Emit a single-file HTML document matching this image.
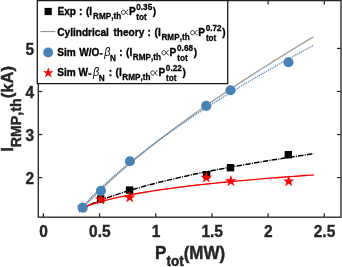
<!DOCTYPE html>
<html><head><meta charset="utf-8"><title>plot</title>
<style>
html,body{margin:0;padding:0;background:#fff;}
body{width:342px;height:267px;overflow:hidden;position:relative;}
svg{position:absolute;left:0;top:0;display:block;will-change:transform;}
text{font-family:"Liberation Sans",sans-serif;font-weight:bold;fill:#262626;font-kerning:none;}
.m{font-size:10.1px;fill:#000;stroke:#000;stroke-width:0.3px;}
.s{font-size:8.2px;fill:#000;stroke:#000;stroke-width:0.25px;}
.b{font-family:"Liberation Sans",sans-serif;font-style:italic;font-weight:normal;font-size:10.9px;fill:#000;}
.tk{stroke:#262626;stroke-width:0.35px;}
.lb{stroke:#262626;stroke-width:0.4px;}
.ls{font-size:13.5px;}
</style></head><body>
<svg width="342" height="267" viewBox="0 0 342 267">
<rect x="0" y="0" width="342" height="267" fill="#fff"/>
<rect x="38.30" y="0.60" width="302.70" height="216.60" fill="none" stroke="#262626" stroke-width="1.35"/>
<line x1="43.40" y1="217.20" x2="43.40" y2="213.20" stroke="#262626" stroke-width="1.25"/>
<line x1="43.40" y1="0.60" x2="43.40" y2="4.60" stroke="#262626" stroke-width="1.25"/>
<line x1="99.58" y1="217.20" x2="99.58" y2="213.20" stroke="#262626" stroke-width="1.25"/>
<line x1="99.58" y1="0.60" x2="99.58" y2="4.60" stroke="#262626" stroke-width="1.25"/>
<line x1="155.76" y1="217.20" x2="155.76" y2="213.20" stroke="#262626" stroke-width="1.25"/>
<line x1="155.76" y1="0.60" x2="155.76" y2="4.60" stroke="#262626" stroke-width="1.25"/>
<line x1="211.94" y1="217.20" x2="211.94" y2="213.20" stroke="#262626" stroke-width="1.25"/>
<line x1="211.94" y1="0.60" x2="211.94" y2="4.60" stroke="#262626" stroke-width="1.25"/>
<line x1="268.12" y1="217.20" x2="268.12" y2="213.20" stroke="#262626" stroke-width="1.25"/>
<line x1="268.12" y1="0.60" x2="268.12" y2="4.60" stroke="#262626" stroke-width="1.25"/>
<line x1="324.30" y1="217.20" x2="324.30" y2="213.20" stroke="#262626" stroke-width="1.25"/>
<line x1="324.30" y1="0.60" x2="324.30" y2="4.60" stroke="#262626" stroke-width="1.25"/>
<line x1="38.30" y1="177.60" x2="42.30" y2="177.60" stroke="#262626" stroke-width="1.25"/>
<line x1="341.00" y1="177.60" x2="337.00" y2="177.60" stroke="#262626" stroke-width="1.25"/>
<line x1="38.30" y1="134.55" x2="42.30" y2="134.55" stroke="#262626" stroke-width="1.25"/>
<line x1="341.00" y1="134.55" x2="337.00" y2="134.55" stroke="#262626" stroke-width="1.25"/>
<line x1="38.30" y1="91.50" x2="42.30" y2="91.50" stroke="#262626" stroke-width="1.25"/>
<line x1="341.00" y1="91.50" x2="337.00" y2="91.50" stroke="#262626" stroke-width="1.25"/>
<line x1="38.30" y1="48.45" x2="42.30" y2="48.45" stroke="#262626" stroke-width="1.25"/>
<line x1="341.00" y1="48.45" x2="337.00" y2="48.45" stroke="#262626" stroke-width="1.25"/>
<path d="M82.50 208.35 L85.39 206.93 L88.28 205.57 L91.17 204.27 L94.06 203.02 L96.95 201.81 L99.84 200.64 L102.73 199.52 L105.62 198.42 L108.51 197.36 L111.40 196.33 L114.29 195.33 L117.18 194.36 L120.07 193.40 L122.96 192.47 L125.85 191.57 L128.74 190.68 L131.63 189.81 L134.52 188.96 L137.41 188.13 L140.30 187.31 L143.19 186.51 L146.08 185.72 L148.97 184.95 L151.86 184.19 L154.75 183.44 L157.64 182.71 L160.53 181.99 L163.42 181.28 L166.31 180.58 L169.20 179.89 L172.09 179.21 L174.98 178.54 L177.87 177.88 L180.76 177.23 L183.65 176.59 L186.54 175.96 L189.43 175.33 L192.32 174.71 L195.21 174.10 L198.10 173.50 L200.99 172.90 L203.88 172.32 L206.77 171.73 L209.66 171.16 L212.55 170.59 L215.44 170.03 L218.33 169.47 L221.22 168.92 L224.11 168.38 L227.00 167.84 L229.89 167.30 L232.78 166.77 L235.67 166.25 L238.56 165.73 L241.45 165.22 L244.34 164.71 L247.23 164.20 L250.12 163.70 L253.01 163.21 L255.90 162.72 L258.79 162.23 L261.68 161.75 L264.57 161.27 L267.46 160.80 L270.35 160.33 L273.24 159.86 L276.13 159.40 L279.02 158.94 L281.91 158.48 L284.80 158.03 L287.69 157.58 L290.58 157.14 L293.47 156.69 L296.36 156.26 L299.25 155.82 L302.14 155.39 L305.03 154.96 L307.92 154.53 L310.81 154.11 L313.70 153.69" fill="none" stroke="#000" stroke-width="1.5" stroke-dasharray="5.5 1.15 1.1 1.15"/>
<rect x="78.80" y="204.00" width="7.40" height="7.40" fill="#000"/>
<rect x="97.00" y="195.30" width="7.40" height="7.40" fill="#000"/>
<rect x="125.90" y="186.40" width="7.40" height="7.40" fill="#000"/>
<rect x="202.90" y="171.00" width="7.40" height="7.40" fill="#000"/>
<rect x="226.80" y="164.00" width="7.40" height="7.40" fill="#000"/>
<rect x="284.60" y="151.00" width="7.40" height="7.40" fill="#000"/>
<path d="M82.50 207.78 L85.39 206.65 L88.28 205.60 L91.17 204.61 L94.06 203.67 L96.95 202.78 L99.84 201.93 L102.73 201.13 L105.62 200.35 L108.51 199.61 L111.40 198.90 L114.29 198.22 L117.18 197.56 L120.07 196.93 L122.96 196.32 L125.85 195.72 L128.74 195.15 L131.63 194.59 L134.52 194.05 L137.41 193.53 L140.30 193.02 L143.19 192.52 L146.08 192.04 L148.97 191.57 L151.86 191.11 L154.75 190.66 L157.64 190.23 L160.53 189.80 L163.42 189.38 L166.31 188.97 L169.20 188.57 L172.09 188.18 L174.98 187.80 L177.87 187.42 L180.76 187.05 L183.65 186.69 L186.54 186.34 L189.43 185.99 L192.32 185.65 L195.21 185.31 L198.10 184.98 L200.99 184.65 L203.88 184.34 L206.77 184.02 L209.66 183.71 L212.55 183.41 L215.44 183.11 L218.33 182.81 L221.22 182.52 L224.11 182.24 L227.00 181.96 L229.89 181.68 L232.78 181.40 L235.67 181.13 L238.56 180.87 L241.45 180.61 L244.34 180.35 L247.23 180.09 L250.12 179.84 L253.01 179.59 L255.90 179.34 L258.79 179.10 L261.68 178.86 L264.57 178.62 L267.46 178.39 L270.35 178.15 L273.24 177.92 L276.13 177.70 L279.02 177.47 L281.91 177.25 L284.80 177.03 L287.69 176.82 L290.58 176.60 L293.47 176.39 L296.36 176.18 L299.25 175.97 L302.14 175.77 L305.03 175.56 L307.92 175.36 L310.81 175.16 L313.70 174.97" fill="none" stroke="#ff0000" stroke-width="1.4"/>
<polygon points="82.50,201.55 83.88,205.80 88.35,205.80 84.73,208.43 86.11,212.68 82.50,210.05 78.89,212.68 80.27,208.43 76.65,205.80 81.12,205.80" fill="#ff0000"/>
<polygon points="100.60,193.35 101.98,197.60 106.45,197.60 102.83,200.23 104.21,204.48 100.60,201.85 96.99,204.48 98.37,200.23 94.75,197.60 99.22,197.60" fill="#ff0000"/>
<polygon points="129.70,191.35 131.08,195.60 135.55,195.60 131.93,198.23 133.31,202.48 129.70,199.85 126.09,202.48 127.47,198.23 123.85,195.60 128.32,195.60" fill="#ff0000"/>
<polygon points="206.30,171.45 207.68,175.70 212.15,175.70 208.53,178.33 209.91,182.58 206.30,179.95 202.69,182.58 204.07,178.33 200.45,175.70 204.92,175.70" fill="#ff0000"/>
<polygon points="230.90,175.05 232.28,179.30 236.75,179.30 233.13,181.93 234.51,186.18 230.90,183.55 227.29,186.18 228.67,181.93 225.05,179.30 229.52,179.30" fill="#ff0000"/>
<polygon points="288.70,175.15 290.08,179.40 294.55,179.40 290.93,182.03 292.31,186.28 288.70,183.65 285.09,186.28 286.47,182.03 282.85,179.40 287.32,179.40" fill="#ff0000"/>
<path d="M82.50 208.13 L85.39 205.05 L88.28 202.04 L91.17 199.08 L94.06 196.18 L96.95 193.33 L99.84 190.53 L102.73 187.77 L105.62 185.05 L108.51 182.37 L111.40 179.73 L114.29 177.12 L117.18 174.55 L120.07 172.00 L122.96 169.48 L125.85 167.00 L128.74 164.53 L131.63 162.10 L134.52 159.68 L137.41 157.30 L140.30 154.93 L143.19 152.58 L146.08 150.26 L148.97 147.95 L151.86 145.67 L154.75 143.40 L157.64 141.15 L160.53 138.92 L163.42 136.71 L166.31 134.51 L169.20 132.33 L172.09 130.16 L174.98 128.01 L177.87 125.87 L180.76 123.74 L183.65 121.63 L186.54 119.54 L189.43 117.45 L192.32 115.38 L195.21 113.32 L198.10 111.27 L200.99 109.24 L203.88 107.21 L206.77 105.20 L209.66 103.19 L212.55 101.20 L215.44 99.22 L218.33 97.25 L221.22 95.29 L224.11 93.34 L227.00 91.39 L229.89 89.46 L232.78 87.53 L235.67 85.62 L238.56 83.71 L241.45 81.82 L244.34 79.93 L247.23 78.04 L250.12 76.17 L253.01 74.31 L255.90 72.45 L258.79 70.60 L261.68 68.76 L264.57 66.92 L267.46 65.10 L270.35 63.28 L273.24 61.46 L276.13 59.66 L279.02 57.86 L281.91 56.06 L284.80 54.28 L287.69 52.50 L290.58 50.73 L293.47 48.96 L296.36 47.20 L299.25 45.44 L302.14 43.70 L305.03 41.95 L307.92 40.22 L310.81 38.49 L313.70 36.76" fill="none" stroke="#a3a3a3" stroke-width="1.45"/>
<path d="M82.50 206.71 L85.39 203.58 L88.28 200.53 L91.17 197.55 L94.06 194.64 L96.95 191.80 L99.84 189.00 L102.73 186.27 L105.62 183.58 L108.51 180.94 L111.40 178.34 L114.29 175.78 L117.18 173.26 L120.07 170.78 L122.96 168.33 L125.85 165.92 L128.74 163.54 L131.63 161.18 L134.52 158.86 L137.41 156.56 L140.30 154.29 L143.19 152.05 L146.08 149.83 L148.97 147.63 L151.86 145.45 L154.75 143.30 L157.64 141.16 L160.53 139.05 L163.42 136.95 L166.31 134.88 L169.20 132.82 L172.09 130.78 L174.98 128.76 L177.87 126.75 L180.76 124.76 L183.65 122.79 L186.54 120.83 L189.43 118.88 L192.32 116.95 L195.21 115.03 L198.10 113.13 L200.99 111.24 L203.88 109.36 L206.77 107.50 L209.66 105.64 L212.55 103.80 L215.44 101.97 L218.33 100.16 L221.22 98.35 L224.11 96.55 L227.00 94.77 L229.89 92.99 L232.78 91.23 L235.67 89.48 L238.56 87.73 L241.45 86.00 L244.34 84.27 L247.23 82.55 L250.12 80.85 L253.01 79.15 L255.90 77.46 L258.79 75.78 L261.68 74.10 L264.57 72.44 L267.46 70.78 L270.35 69.13 L273.24 67.49 L276.13 65.86 L279.02 64.23 L281.91 62.61 L284.80 61.00 L287.69 59.40 L290.58 57.80 L293.47 56.21 L296.36 54.63 L299.25 53.05 L302.14 51.48 L305.03 49.92 L307.92 48.36 L310.81 46.81 L313.70 45.27" fill="none" stroke="#4682b4" stroke-width="1.4" stroke-dasharray="1.05 1.05"/>
<circle cx="82.70" cy="207.80" r="5.05" fill="#4682b4"/>
<circle cx="101.00" cy="190.80" r="5.05" fill="#4682b4"/>
<circle cx="129.90" cy="161.20" r="5.05" fill="#4682b4"/>
<circle cx="206.20" cy="105.90" r="5.05" fill="#4682b4"/>
<circle cx="230.50" cy="90.20" r="5.05" fill="#4682b4"/>
<circle cx="288.50" cy="62.20" r="5.05" fill="#4682b4"/>
<text class="tk" style="font-size:15.5px" text-anchor="middle" transform="translate(43.60 237.3) scale(1 1.050)">0</text>
<text class="tk" style="font-size:15.5px" text-anchor="middle" transform="translate(99.78 237.3) scale(1 1.050)">0.5</text>
<text class="tk" style="font-size:15.5px" text-anchor="middle" transform="translate(155.96 237.3) scale(1 1.050)">1</text>
<text class="tk" style="font-size:15.5px" text-anchor="middle" transform="translate(212.14 237.3) scale(1 1.050)">1.5</text>
<text class="tk" style="font-size:15.5px" text-anchor="middle" transform="translate(268.32 237.3) scale(1 1.050)">2</text>
<text class="tk" style="font-size:15.5px" text-anchor="middle" transform="translate(324.50 237.3) scale(1 1.050)">2.5</text>
<text class="tk" style="font-size:15.5px" text-anchor="end" transform="translate(34.2 54.65) scale(1 1.050)">5</text>
<text class="tk" style="font-size:15.5px" text-anchor="end" transform="translate(34.2 97.70) scale(1 1.050)">4</text>
<text class="tk" style="font-size:15.5px" text-anchor="end" transform="translate(34.2 140.75) scale(1 1.050)">3</text>
<text class="tk" style="font-size:15.5px" text-anchor="end" transform="translate(34.2 183.80) scale(1 1.050)">2</text>
<g transform="translate(155.1,258.8) scale(1 1.05)"><text class="lb" style="font-size:17px" x="0" y="0">P<tspan style="font-size:13.5px" dy="7.2">tot</tspan><tspan dy="-7.2">(MW)</tspan></text></g>
<g transform="translate(12.7,151.8) rotate(-90) scale(1 1.04)"><text class="lb" style="font-size:16.6px" x="0" y="0">I<tspan style="font-size:14.2px" dy="8.3">RMP,th</tspan><tspan dy="-8.3">(kA)</tspan></text></g>
<rect x="37.3" y="0.6" width="190.4" height="83.0" fill="#fff" stroke="#1a1a1a" stroke-width="1.3"/>
<rect x="44.60" y="7.90" width="7.20" height="7.20" fill="#000"/>
<line x1="40.4" y1="31.6" x2="55.4" y2="31.6" stroke="#8c8c8c" stroke-width="1"/>
<circle cx="48.15" cy="52.45" r="4.95" fill="#4682b4"/>
<polygon points="48.30,67.25 49.57,71.15 53.67,71.15 50.35,73.57 51.62,77.47 48.30,75.06 44.98,77.47 46.25,73.57 42.93,71.15 47.03,71.15" fill="#ff0000"/>
<text class="m" transform="translate(57.41 15.30) scale(1 1.090)">Exp</text>
<text class="m" transform="translate(79.04 15.30) scale(1 1.090)">:</text>
<text class="m" transform="translate(86.00 15.30) scale(1 1.090)">(</text>
<text class="m" transform="translate(89.31 15.30) scale(1 1.090)">I</text>
<text class="s" transform="translate(93.04 19.20) scale(1 1.090)">RMP,th</text>
<path d="M 7.5,0 C 6.2,0 5.4,1.2 4.7,2.4 C 4.0,3.6 3.3,4.8 2.2,4.8 C 0.9,4.8 0,3.8 0,2.4 C 0,1.0 0.9,0 2.2,0 C 3.3,0 4.0,1.2 4.7,2.4 C 5.4,3.6 6.2,4.8 7.5,4.8" transform="translate(121.50,10.10) scale(0.9 0.900)" fill="none" stroke="#000" stroke-width="0.9"/>
<text class="m" transform="translate(129.11 15.30) scale(1 1.090)">P</text>
<text class="s" transform="translate(136.27 10.40) scale(1 1.090)">0.35</text>
<text class="s" transform="translate(136.29 20.10) scale(1 1.090)">tot</text>
<text class="m" transform="translate(152.87 15.30) scale(1 1.090)">)</text>
<text class="m" transform="translate(57.30 35.70) scale(1 1.090)">Cylindrical</text>
<text class="m" transform="translate(113.47 35.70) scale(1 1.090)">theory</text>
<text class="m" transform="translate(147.44 35.70) scale(1 1.090)">:</text>
<text class="m" transform="translate(154.59 35.70) scale(1 1.090)">(</text>
<text class="m" transform="translate(158.11 35.70) scale(1 1.090)">I</text>
<text class="s" transform="translate(161.44 39.60) scale(1 1.090)">RMP,th</text>
<path d="M 7.5,0 C 6.2,0 5.4,1.2 4.7,2.4 C 4.0,3.6 3.3,4.8 2.2,4.8 C 0.9,4.8 0,3.8 0,2.4 C 0,1.0 0.9,0 2.2,0 C 3.3,0 4.0,1.2 4.7,2.4 C 5.4,3.6 6.2,4.8 7.5,4.8" transform="translate(190.60,30.50) scale(0.9 0.900)" fill="none" stroke="#000" stroke-width="0.9"/>
<text class="m" transform="translate(198.21 35.70) scale(1 1.090)">P</text>
<text class="s" transform="translate(205.67 30.80) scale(1 1.090)">0.72</text>
<text class="s" transform="translate(205.89 40.50) scale(1 1.090)">tot</text>
<text class="m" transform="translate(222.27 35.70) scale(1 1.090)">)</text>
<text class="m" transform="translate(57.30 55.80) scale(1 1.090)">Sim</text>
<text class="m" transform="translate(79.20 55.80) scale(1 1.090)">W/O</text>
<rect x="99.5" y="53.15" width="3.1" height="1.45" fill="#000"/>
<text class="b" transform="translate(104.27 55.80) scale(1 1.090)">β</text>
<text class="s" transform="translate(110.04 60.60) scale(1 1.090)">N</text>
<text class="m" transform="translate(119.34 55.80) scale(1 1.090)">:</text>
<text class="m" transform="translate(126.00 55.80) scale(1 1.090)">(</text>
<text class="m" transform="translate(129.51 55.80) scale(1 1.090)">I</text>
<text class="s" transform="translate(132.84 59.70) scale(1 1.090)">RMP,th</text>
<path d="M 7.5,0 C 6.2,0 5.4,1.2 4.7,2.4 C 4.0,3.6 3.3,4.8 2.2,4.8 C 0.9,4.8 0,3.8 0,2.4 C 0,1.0 0.9,0 2.2,0 C 3.3,0 4.0,1.2 4.7,2.4 C 5.4,3.6 6.2,4.8 7.5,4.8" transform="translate(162.00,50.60) scale(0.9 0.900)" fill="none" stroke="#000" stroke-width="0.9"/>
<text class="m" transform="translate(169.61 55.80) scale(1 1.090)">P</text>
<text class="s" transform="translate(177.07 50.90) scale(1 1.090)">0.68</text>
<text class="s" transform="translate(177.29 60.60) scale(1 1.090)">tot</text>
<text class="m" transform="translate(193.67 55.80) scale(1 1.090)">)</text>
<text class="m" transform="translate(57.30 76.00) scale(1 1.090)">Sim</text>
<text class="m" transform="translate(78.40 76.00) scale(1 1.090)">W</text>
<rect x="88.3" y="73.35" width="3.1" height="1.45" fill="#000"/>
<text class="b" transform="translate(93.07 76.00) scale(1 1.090)">β</text>
<text class="s" transform="translate(98.84 80.80) scale(1 1.090)">N</text>
<text class="m" transform="translate(108.74 76.00) scale(1 1.090)">:</text>
<text class="m" transform="translate(115.40 76.00) scale(1 1.090)">(</text>
<text class="m" transform="translate(118.91 76.00) scale(1 1.090)">I</text>
<text class="s" transform="translate(122.24 79.90) scale(1 1.090)">RMP,th</text>
<path d="M 7.5,0 C 6.2,0 5.4,1.2 4.7,2.4 C 4.0,3.6 3.3,4.8 2.2,4.8 C 0.9,4.8 0,3.8 0,2.4 C 0,1.0 0.9,0 2.2,0 C 3.3,0 4.0,1.2 4.7,2.4 C 5.4,3.6 6.2,4.8 7.5,4.8" transform="translate(150.80,70.80) scale(0.9 0.900)" fill="none" stroke="#000" stroke-width="0.9"/>
<text class="m" transform="translate(158.41 76.00) scale(1 1.090)">P</text>
<text class="s" transform="translate(165.87 71.10) scale(1 1.090)">0.22</text>
<text class="s" transform="translate(166.09 80.80) scale(1 1.090)">tot</text>
<text class="m" transform="translate(182.47 76.00) scale(1 1.090)">)</text>
</svg></body></html>
